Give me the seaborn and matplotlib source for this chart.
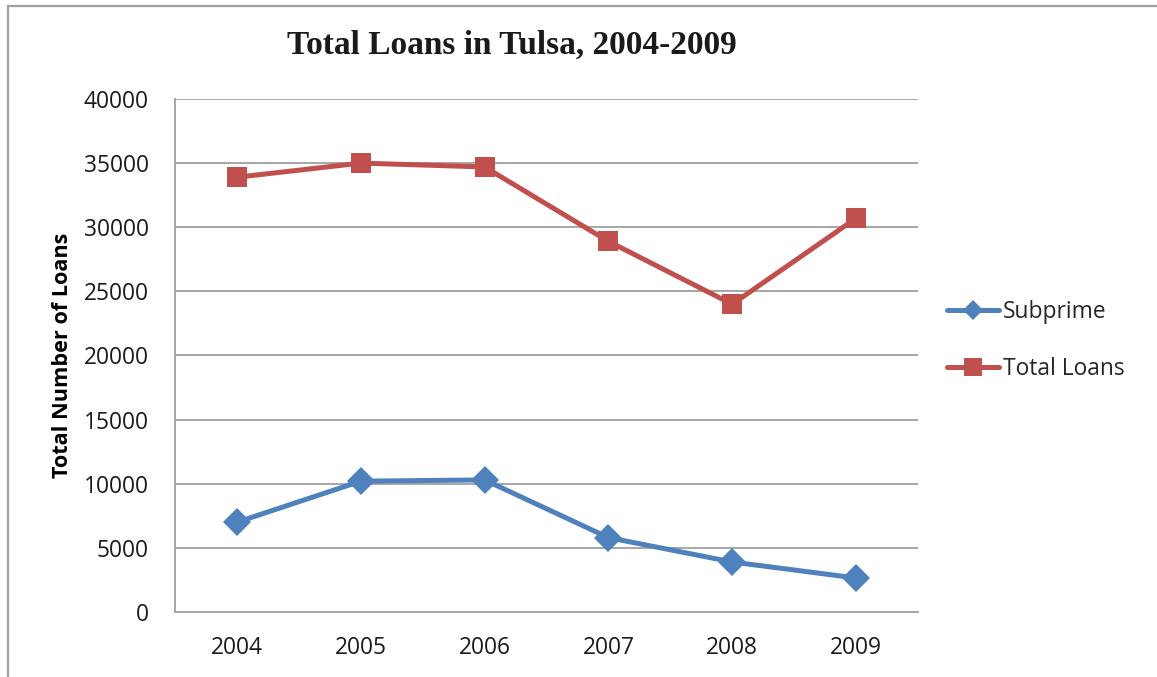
import pandas as pd
import numpy as np
import matplotlib
matplotlib.use("Agg")
import matplotlib.pyplot as plt
import seaborn as sns
from matplotlib.patches import Rectangle
from matplotlib.lines import Line2D

# Values
years = ["2004", "2005", "2006", "2007", "2008", "2009"]
subprime = [7000, 10200, 10300, 5800, 3900, 2650]
total_loans = [33900, 35000, 34700, 28900, 24000, 30700]
series_names = ["Subprime", "Total Loans"]
colors = {"Subprime": "#4f81bd", "Total Loans": "#c0504d"}
markers = {"Subprime": "D", "Total Loans": "s"}

# long table for seaborn
df = pd.DataFrame({
    "pos": list(range(len(years))) * 2,
    "year": years * 2,
    "value": subprime + total_loans,
    "series": ["Subprime"] * len(years) + ["Total Loans"] * len(years),
})

sns.set_style("white")
plt.rcParams["font.family"] = ["Open Sans", "DejaVu Sans"]

fig = plt.figure(figsize=(11.57, 6.77), dpi=100)
ax = fig.add_axes([0.1513, 0.0960, 0.7934 - 0.1513, 0.8538 - 0.0960])

sns.lineplot(data=df, x="pos", y="value", hue="series", style="series",
             markers=markers, dashes=False, palette=colors, linewidth=3.6,
             markersize=14, markeredgewidth=0, legend=False, ax=ax)

ax.set_xlim(-0.5, len(years) - 0.5)
ax.set_ylim(0, 40000)
ax.set_yticks(np.arange(0, 40001, 5000))
ax.set_xticks(range(len(years)))
ax.set_xticklabels(years)
ax.tick_params(axis="both", length=0, labelsize=16.4, colors="#1a1a1a")
ax.tick_params(axis="y", pad=19)
ax.tick_params(axis="x", pad=17)

ax.yaxis.grid(True, color="#a6a6a6", linewidth=1.4)
ax.set_axisbelow(True)
for s in ["top", "right"]:
    ax.spines[s].set_visible(False)
for s in ["left", "bottom"]:
    ax.spines[s].set_color("#a6a6a6")
    ax.spines[s].set_linewidth(1.4)

ax.set_xlabel("")
ax.set_ylabel("Total Number of Loans", fontsize=15.6, fontweight="bold", color="#000000")
ax.yaxis.set_label_coords(-0.138, 0.5)

fig.text(0.4425, 0.933, "Total Loans in Tulsa, 2004-2009", ha="center", va="center",
         fontsize=24, fontweight="bold", family=["Liberation Serif", "DejaVu Serif"],
         color="#1a1a1a")

# legend on the right, outside the plot area
handles = [Line2D([0], [0], color=colors[n], marker=markers[n], linewidth=3.6,
                  markersize=10 if n == "Subprime" else 13, markeredgewidth=0)
           for n in series_names]
fig.legend(handles, series_names, loc="center left", bbox_to_anchor=(0.8085, 0.497),
           frameon=False, fontsize=16.4, handlelength=2.3, handletextpad=0.15,
           labelspacing=1.47, borderpad=0)

# outer chart border (left and top edges visible in reference)
fig.patches.append(Rectangle((0.0069, -0.05), 1.2, 1.041, transform=fig.transFigure,
                             fill=False, edgecolor="#a0a0a0", linewidth=1.6))

fig.savefig("out.png", dpi=100)
